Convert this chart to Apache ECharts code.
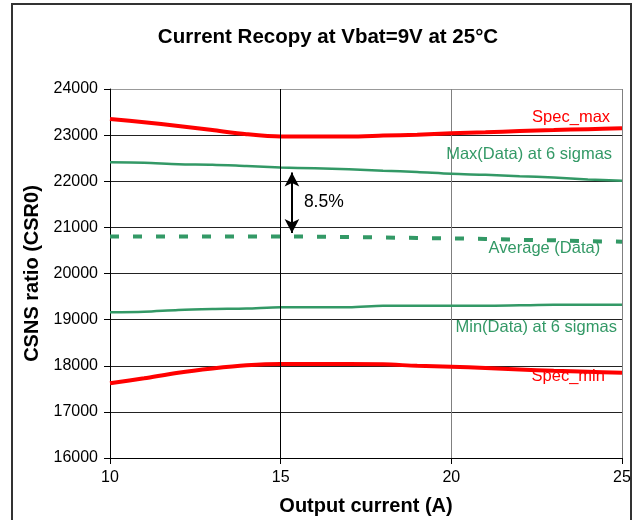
<!DOCTYPE html>
<html>
<head>
<meta charset="utf-8">
<script src="https://cdn.jsdelivr.net/npm/echarts@6/dist/echarts.min.js"></script>
<style>
  html, body { margin: 0; padding: 0; background: #fff; }
  #chart { width: 637px; height: 520px; }
</style>
</head>
<body>
<div id="chart"></div>
<script>
// output current (A)
var current = [10, 11, 12, 13, 14, 15, 16, 17, 18, 19, 20, 21, 22, 23, 24, 25]
var specMax = [23350, 23280, 23200, 23110, 23020, 22970, 22970, 22970, 22990, 23010, 23040, 23060, 23090, 23110, 23130, 23150]
var maxData = [22410, 22400, 22370, 22360, 22330, 22300, 22280, 22260, 22230, 22200, 22160, 22140, 22110, 22080, 22040, 22010]
var average = [20800, 20800, 20800, 20800, 20800, 20800, 20800, 20790, 20780, 20770, 20760, 20750, 20730, 20720, 20700, 20690]
var minData = [19160, 19170, 19210, 19230, 19240, 19270, 19270, 19270, 19300, 19300, 19300, 19300, 19310, 19320, 19320, 19320]
var specMin = [17620, 17730, 17850, 17940, 18010, 18040, 18040, 18040, 18030, 18000, 17980, 17950, 17920, 17890, 17870, 17850]

function pairs (ys) {
  return current.map(function (x, i) { return [x, ys[i]] })
}

var RED = '#ff0000'
var GREEN = '#339966'
var FONT = 'Liberation Sans'

// text label placed in data coords
function tag (text, coord, color, size, align) {
  return {
    coord: coord,
    symbolSize: 0,
    label: {
      show: true,
      formatter: text,
      position: 'inside',
      align: align || 'right',
      verticalAlign: 'middle',
      color: color,
      fontFamily: FONT,
      fontSize: size || 16.5
    }
  }
}

var myChart = echarts.init(document.getElementById('chart'))
myChart.setOption({
  backgroundColor: '#fff',
  animation: false,
  title: {
    text: 'Current Recopy at Vbat=9V at 25°C',
    left: 323,
    textAlign: 'center',
    top: 22,
    textStyle: { fontFamily: FONT, fontSize: 20.5, fontWeight: 'bold', color: '#000' }
  },
  graphic: [{
    type: 'rect',
    shape: { x: 12, y: 4, width: 619, height: 540 },
    style: { fill: 'none', stroke: '#333', lineWidth: 2 }
  }],
  grid: { left: 110, right: 15, top: 89, bottom: 62, containLabel: false, outerBoundsMode: 'none' },
  xAxis: {
    type: 'value',
    min: 10,
    max: 25,
    interval: 5,
    name: 'Output current (A)',
    nameLocation: 'middle',
    nameGap: 38,
    nameTextStyle: { fontFamily: FONT, fontSize: 20, fontWeight: 'bold', color: '#000' },
    axisLine: { lineStyle: { color: '#000', width: 1 } },
    axisTick: { show: true, length: 6, lineStyle: { color: '#000' } },
    axisLabel: { fontFamily: FONT, fontSize: 16, color: '#000', margin: 12 },
    splitLine: { show: true, lineStyle: { color: '#808080', width: 1 } }
  },
  yAxis: {
    type: 'value',
    min: 16000,
    max: 24000,
    interval: 1000,
    name: 'CSNS ratio (CSR0)',
    nameLocation: 'middle',
    nameGap: 68,
    nameTextStyle: { fontFamily: FONT, fontSize: 20, fontWeight: 'bold', color: '#000' },
    axisLine: { show: true, lineStyle: { color: '#000', width: 1 } },
    axisTick: { show: true, length: 6, lineStyle: { color: '#000' } },
    axisLabel: { fontFamily: FONT, fontSize: 16, color: '#000', margin: 12, formatter: function (v) { return String(v) } },
    splitLine: {
      show: true,
      lineStyle: { color: ['#222', '#222', '#222', '#222', '#222', '#222', '#222', '#222', '#999'], width: 1 }
    }
  },
  series: [
    {
      name: 'Spec_max',
      type: 'line',
      data: pairs(specMax),
      smooth: 0.3,
      symbol: 'none',
      lineStyle: { color: RED, width: 4 },
      markLine: {
        silent: true,
        symbol: 'none',
        label: { show: false },
        lineStyle: { color: '#000', width: 1, type: 'solid' },
        data: [{ xAxis: 15 }]
      },
      markPoint: { data: [tag('Spec_max', [24.65, 23393], RED)] }
    },
    {
      name: 'Max(Data) at 6 sigmas',
      type: 'line',
      data: pairs(maxData),
      smooth: 0.3,
      symbol: 'none',
      lineStyle: { color: GREEN, width: 2.5 },
      markPoint: { data: [tag('Max(Data) at 6 sigmas', [24.71, 22591], GREEN)] }
    },
    {
      name: 'Average (Data)',
      type: 'line',
      data: pairs(average),
      symbol: 'none',
      lineStyle: { color: GREEN, width: 4, type: [9, 14], cap: 'butt' },
      markPoint: { data: [tag('Average (Data)', [24.36, 20553], GREEN)] }
    },
    {
      name: 'Min(Data) at 6 sigmas',
      type: 'line',
      data: pairs(minData),
      smooth: 0.3,
      symbol: 'none',
      lineStyle: { color: GREEN, width: 2.5 },
      markPoint: { data: [tag('Min(Data) at 6 sigmas', [24.85, 18840], GREEN)] }
    },
    {
      name: 'Spec_min',
      type: 'line',
      data: pairs(specMin),
      smooth: 0.3,
      symbol: 'none',
      lineStyle: { color: RED, width: 4 },
      markPoint: { data: [tag('Spec_min', [24.5, 17778], RED)] }
    },
    {
      // 8.5% arrow annotation
      name: 'gap',
      type: 'line',
      data: [],
      markLine: {
        silent: true,
        symbol: ['arrow', 'arrow'],
        symbolSize: [11, 14],
        label: { show: false },
        lineStyle: { color: '#000', width: 2, type: 'solid' },
        data: [[{ coord: [15.33, 22190] }, { coord: [15.33, 20880] }]]
      },
      markPoint: { data: [tag('8.5%', [15.68, 21550], '#000', 17.5, 'left')] }
    }
  ]
})
</script>
</body>
</html>
